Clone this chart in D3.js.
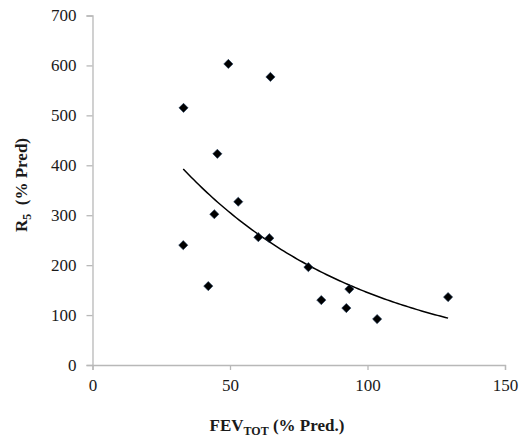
<!DOCTYPE html>
<html>
<head>
<meta charset="utf-8">
<script src="https://cdn.jsdelivr.net/npm/d3@7"></script>
<style>
  html, body { margin: 0; padding: 0; background: #fff; }
  svg text { font-family: "Liberation Serif", "Times New Roman", serif !important; }
</style>
</head>
<body>
<svg id="chart" width="522" height="438"></svg>
<script>
// Data
const fevTot = [33.1, 49.4, 64.7, 45.4, 33.0, 44.3, 53.0, 60.3, 64.3, 78.5, 42.1, 83.2, 92.3, 93.4, 103.5, 129.3];
const r5     = [515, 603, 577, 423, 240, 302, 327, 256, 254, 196, 158, 130, 114, 152, 92, 136];
const xTicks = [0, 50, 100, 150];
const yTicks = [0, 100, 200, 300, 400, 500, 600, 700];

const svg = d3.select("#chart");
const x = d3.scaleLinear().domain([0, 150]).range([92.5, 505]);
const y = d3.scaleLinear().domain([0, 700]).range([365, 15.5]);
const axisColor = "#b8b8b8";
const textColor = "#1a1a1a";
const serif = "'Liberation Serif', 'Times New Roman', serif";

// Y axis
const gy = svg.append("g").attr("transform", `translate(${x(0)},0)`)
  .call(d3.axisLeft(y).tickValues(yTicks).tickSize(6).tickPadding(10).tickFormat(d3.format("d")))
  .attr("font-family", null);
gy.select(".domain").attr("stroke", axisColor).attr("stroke-width", 1.3);
gy.selectAll(".tick line").attr("stroke", axisColor).attr("stroke-width", 1.3);
gy.selectAll(".tick text").style("font-size", "17px").style("font-family", serif).attr("fill", textColor);

// X axis
const gx = svg.append("g").attr("transform", `translate(0,${y(0)})`)
  .call(d3.axisBottom(x).tickValues(xTicks).tickSize(5).tickPadding(9).tickFormat(d3.format("d")))
  .attr("font-family", null);
gx.select(".domain").attr("stroke", axisColor).attr("stroke-width", 1.3);
gx.selectAll(".tick line").attr("stroke", axisColor).attr("stroke-width", 1.3);
gx.selectAll(".tick text").style("font-size", "17px").style("font-family", serif).attr("fill", textColor);

// Exponential trendline (least squares on ln y), as in the spreadsheet
const n = fevTot.length;
const mx = d3.mean(fevTot);
const ly = r5.map(v => Math.log(v));
const my = d3.mean(ly);
let sxy = 0, sxx = 0;
for (let i = 0; i < n; i++) { sxy += (fevTot[i] - mx) * (ly[i] - my); sxx += (fevTot[i] - mx) ** 2; }
const b = sxy / sxx;
const a = Math.exp(my - b * mx);
const [xmin, xmax] = d3.extent(fevTot);
const trend = d3.range(0, 101).map(i => {
  const xv = xmin + (xmax - xmin) * i / 100;
  return [xv, a * Math.exp(b * xv)];
});
svg.append("path")
  .datum(trend)
  .attr("fill", "none")
  .attr("stroke", "#000")
  .attr("stroke-width", 1.5)
  .attr("d", d3.line().x(d => x(d[0])).y(d => y(d[1])));

// Diamond markers
const diamond = d3.symbol().type(d3.symbolSquare).size(42);
svg.append("g").selectAll("path")
  .data(fevTot.map((v, i) => [v, r5[i]]))
  .join("path")
  .attr("d", diamond)
  .attr("transform", d => `translate(${x(d[0])},${y(d[1])}) rotate(45)`)
  .attr("fill", "#000")
  .attr("stroke", "#1f3a5a")
  .attr("stroke-width", 0.6);

// Y axis title
const yt = svg.append("text")
  .attr("transform", "translate(27,185) rotate(-90)")
  .attr("text-anchor", "middle")
  .attr("font-weight", "bold")
  .style("font-size", "17px")
  .attr("fill", textColor);
yt.append("tspan").text("R");
yt.append("tspan").style("font-size", "12px").attr("dy", 4).text("5");
yt.append("tspan").attr("dy", -4).text("\u00a0 (% Pred)");

// X axis title
const xt = svg.append("text")
  .attr("x", 277)
  .attr("y", 431)
  .attr("text-anchor", "middle")
  .attr("font-weight", "bold")
  .style("font-size", "17px")
  .attr("fill", textColor);
xt.append("tspan").text("FEV");
xt.append("tspan").style("font-size", "12px").attr("dy", 4).text("TOT");
xt.append("tspan").attr("dy", -4).text(" (% Pred.)");
</script>
</body>
</html>
